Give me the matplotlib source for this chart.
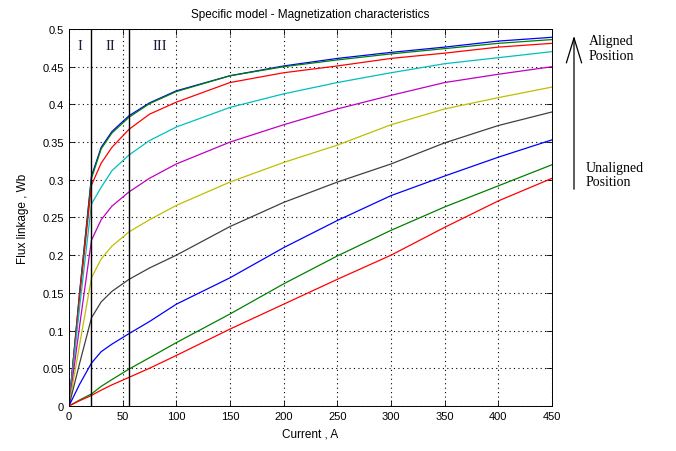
import matplotlib
matplotlib.use('Agg')
import matplotlib.pyplot as plt

# current samples (A)
current = [0, 10, 21, 30, 40, 56, 75, 100, 150, 200, 250, 300, 350, 400, 450]

# flux linkage (Wb), aligned -> unaligned rotor positions
flux_1 = [0, 0.152, 0.305, 0.343, 0.364, 0.385, 0.402, 0.418, 0.438, 0.451, 0.461, 0.469, 0.476, 0.484, 0.489]
flux_2 = [0, 0.150, 0.302, 0.341, 0.362, 0.383, 0.401, 0.417, 0.438, 0.450, 0.459, 0.467, 0.474, 0.481, 0.486]
flux_3 = [0, 0.145, 0.293, 0.322, 0.343, 0.367, 0.387, 0.403, 0.429, 0.442, 0.451, 0.461, 0.468, 0.476, 0.481]
flux_4 = [0, 0.132, 0.268, 0.290, 0.312, 0.333, 0.352, 0.370, 0.396, 0.414, 0.429, 0.442, 0.454, 0.462, 0.470]
flux_5 = [0, 0.107, 0.220, 0.247, 0.265, 0.284, 0.302, 0.321, 0.350, 0.373, 0.394, 0.412, 0.429, 0.440, 0.450]
flux_6 = [0, 0.082, 0.170, 0.195, 0.212, 0.231, 0.247, 0.266, 0.297, 0.323, 0.346, 0.373, 0.394, 0.409, 0.423]
flux_7 = [0, 0.057, 0.117, 0.138, 0.152, 0.168, 0.183, 0.200, 0.238, 0.270, 0.297, 0.321, 0.349, 0.372, 0.390]
flux_8 = [0, 0.029, 0.057, 0.072, 0.082, 0.096, 0.112, 0.135, 0.170, 0.210, 0.246, 0.279, 0.305, 0.330, 0.353]
flux_9 = [0, 0.008, 0.016, 0.026, 0.035, 0.049, 0.064, 0.084, 0.122, 0.162, 0.199, 0.233, 0.264, 0.292, 0.320]
flux_10 = [0, 0.007, 0.014, 0.021, 0.028, 0.038, 0.050, 0.067, 0.102, 0.135, 0.168, 0.200, 0.237, 0.272, 0.302]

curves = [flux_1, flux_2, flux_3, flux_4, flux_5, flux_6, flux_7, flux_8, flux_9, flux_10]
colors = [(0, 0, 1), (0, 0.5, 0), (1, 0, 0), (0, 0.75, 0.75), (0.75, 0, 0.75),
          (0.75, 0.75, 0), (0.25, 0.25, 0.25), (0, 0, 1), (0, 0.5, 0), (1, 0, 0)]

# region boundaries (A)
region_edges = [21, 56]
region_labels = ['I', 'II', 'III']
region_label_x = [10, 39, 85]

plt.rcParams['font.family'] = ['Liberation Sans', 'DejaVu Sans']
plt.rcParams['font.size'] = 8

fig = plt.figure(figsize=(6.76, 4.52), dpi=100)
ax = fig.add_axes([0.102, 0.0996, 0.7146, 0.834])

for y, c in zip(curves, colors):
    ax.plot(current, y, color=c, lw=0.9)

for e in region_edges:
    ax.axvline(e, color='black', lw=1.0)
for lab, x in zip(region_labels, region_label_x):
    ax.text(x, 0.478, lab, family='Liberation Serif', fontsize=10.5,
            ha='center', va='center', color='#1a1a3a')

ax.set_xlim(0, 450)
ax.set_ylim(0, 0.5)
ax.set_xticks(range(0, 451, 50))
ax.set_yticks([i * 0.05 for i in range(11)])
ax.set_yticklabels(['0', '0.05', '0.1', '0.15', '0.2', '0.25', '0.3', '0.35', '0.4', '0.45', '0.5'])
ax.grid(True, color='black', linestyle=(0, (1, 3)), lw=0.8)
ax.tick_params(direction='in', top=True, right=True, length=4, width=0.6)
for s in ax.spines.values():
    s.set_linewidth(0.7)

ax.set_title('Specific model - Magnetization characteristics', fontsize=8.5, pad=9)
ax.set_xlabel('Current , A', fontsize=8.5, labelpad=5)
ax.set_ylabel('Flux linkage , Wb', fontsize=8.5, labelpad=10)

# position arrow on the right
fig.patches.append(matplotlib.patches.FancyArrowPatch(
    (574 / 676, 1 - 193 / 452), (574 / 676, 1 - 34 / 452),
    transform=fig.transFigure, arrowstyle='->,head_length=18,head_width=5.5',
    color='black', lw=0.9))
fig.text(589 / 676, 1 - 49 / 452, 'Aligned\nPosition', family='Liberation Serif',
         fontsize=10, va='center', ha='left', linespacing=1.1)
fig.text(586 / 676, 1 - 176 / 452, 'Unaligned\nPosition', family='Liberation Serif',
         fontsize=10, va='center', ha='left', linespacing=1.1)

fig.savefig('out.png', dpi=100)
